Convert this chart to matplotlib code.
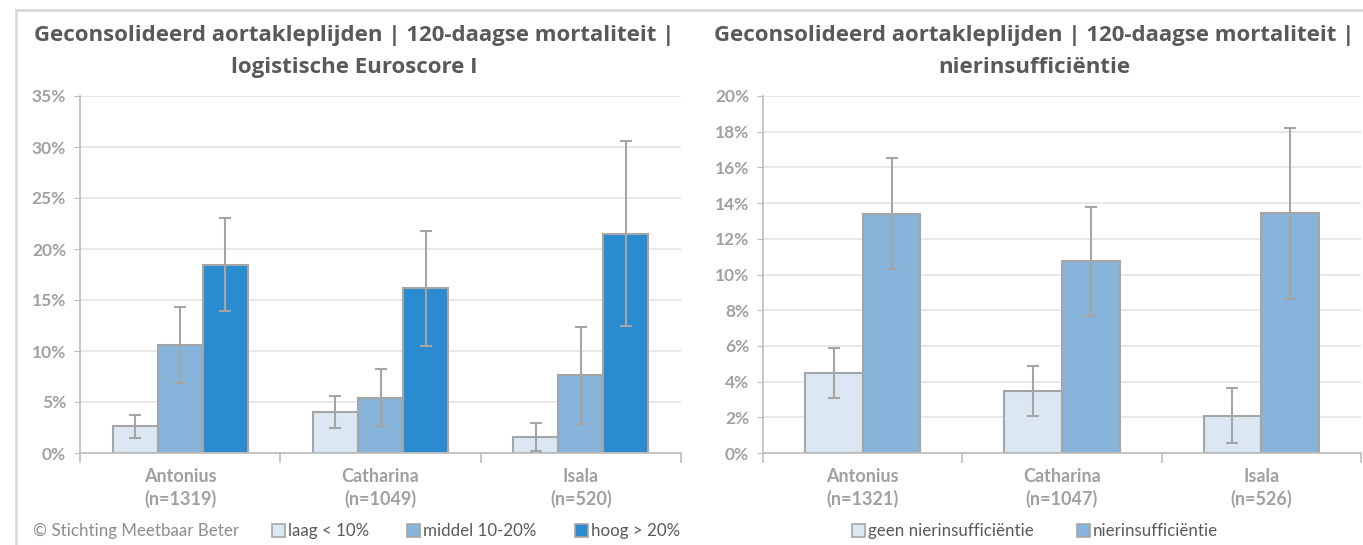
import matplotlib
matplotlib.use("Agg")
import matplotlib.pyplot as plt
from matplotlib.patches import Rectangle
from matplotlib.lines import Line2D
from matplotlib.ticker import FixedLocator, PercentFormatter
import numpy as np

# --- data -------------------------------------------------------------
hospitals_left = ["Antonius\n(n=1319)", "Catharina\n(n=1049)", "Isala\n(n=520)"]
euro_labels = ["laag < 10%", "middel 10-20%", "hoog > 20%"]
euro_values = [
    [2.6, 4.0, 1.6],     # laag
    [10.6, 5.4, 7.6],    # middel
    [18.4, 16.2, 21.5],  # hoog
]
euro_upper = [
    [3.7, 5.6, 2.9],
    [14.3, 8.2, 12.4],
    [23.0, 21.8, 30.6],
]
euro_lower = [
    [1.5, 2.5, 0.2],
    [6.9, 2.6, 2.8],
    [13.9, 10.5, 12.5],
]

hospitals_right = ["Antonius\n(n=1321)", "Catharina\n(n=1047)", "Isala\n(n=526)"]
renal_labels = ["geen nierinsufficiëntie", "nierinsufficiëntie"]
renal_values = [
    [4.5, 3.5, 2.1],
    [13.4, 10.75, 13.45],
]
renal_upper = [
    [5.9, 4.9, 3.65],
    [16.5, 13.8, 18.2],
]
renal_lower = [
    [3.1, 2.1, 0.55],
    [10.3, 7.7, 8.6],
]

title_left = ["Geconsolideerd aortakleplijden | 120-daagse mortaliteit |",
              "logistische Euroscore I"]
title_right = ["Geconsolideerd aortakleplijden | 120-daagse mortaliteit |",
               "nierinsufficiëntie"]
copyright_text = "© Stichting Meetbaar Beter"

# --- style ------------------------------------------------------------
W, H = 1363, 545
DPI = 100
c_light = "#dbe7f2"
c_mid = "#87b4da"
c_dark = "#2b8bd0"
edge = "#a5a5a5"
grid_c = "#e4e4e4"
tick_c = "#a0a0a0"
title_c = "#595959"
legend_c = "#595959"

plt.rcParams["font.family"] = ["Lato", "DejaVu Sans"]

fig = plt.figure(figsize=(W / DPI, H / DPI), dpi=DPI)


def px_axes(x0, x1, ytop, ybot):
    return fig.add_axes([x0 / W, 1 - ybot / H, (x1 - x0) / W, (ybot - ytop) / H])


def px_text(x, y, s, **kw):
    fig.text(x / W, 1 - y / H, s, **kw)


def px_square(x, y, color):
    fig.patches.append(Rectangle((x / W, 1 - (y + 13) / H), 13 / W, 13 / H,
                                 transform=fig.transFigure, facecolor=color,
                                 edgecolor=edge, linewidth=1.2))


# outer frame lines of the chart panel
fig.add_artist(Line2D([16 / W, 1], [1 - 10 / H, 1 - 10 / H], transform=fig.transFigure,
                      color="#d9d9d9", linewidth=2))
fig.add_artist(Line2D([16 / W, 16 / W], [0, 1 - 10 / H], transform=fig.transFigure,
                      color="#d9d9d9", linewidth=2))


def style_axes(ax, ymax, ystep, ncat, labels):
    ax.set_xlim(-0.5, ncat - 0.5)
    ax.set_ylim(0, ymax)
    ax.yaxis.set_major_locator(FixedLocator(np.arange(0, ymax + 0.01, ystep)))
    ax.yaxis.set_major_formatter(PercentFormatter(decimals=0))
    ax.grid(axis="y", color=grid_c, linewidth=1.2)
    ax.set_axisbelow(True)
    for s in ("top", "right"):
        ax.spines[s].set_visible(False)
    ax.spines["left"].set_color("#bdbdbd")
    ax.spines["bottom"].set_color("#bdbdbd")
    ax.spines["left"].set_linewidth(1.2)
    ax.spines["bottom"].set_linewidth(1.2)
    ax.tick_params(axis="y", length=4, color="#bdbdbd", labelcolor=tick_c,
                   labelsize=12.5, pad=6)
    for t in ax.get_yticklabels():
        t.set_fontweight("bold")
    ax.set_xticks(range(ncat))
    ax.set_xticklabels(labels, fontsize=13, color=tick_c, fontweight="bold",
                       linespacing=1.3)
    ax.tick_params(axis="x", length=0, pad=11)
    ax.set_xticks(np.arange(-0.5, ncat), minor=True)
    ax.tick_params(axis="x", which="minor", length=7, color="#bdbdbd", width=1.2)


def draw_groups(ax, values, upper, lower, colors, width):
    n = len(values)
    x = np.arange(len(values[0]))
    for i in range(n):
        off = (i - (n - 1) / 2) * width
        v = np.array(values[i])
        err = [v - np.array(lower[i]), np.array(upper[i]) - v]
        ax.bar(x + off, v, width, color=colors[i], edgecolor=edge, linewidth=1.5,
               zorder=2)
        ax.errorbar(x + off, v, yerr=err, fmt="none", ecolor=edge, elinewidth=1.5,
                    capsize=4.5, capthick=1.5, zorder=3)


title_kw = dict(ha="center", va="center", fontsize=16, fontweight="bold",
                color=title_c, family=["Open Sans", "DejaVu Sans"])


def draw_title(xc, lines):
    for y, line in zip([36, 67], lines):
        px_text(xc, y, line, **title_kw)


# --- left panel -------------------------------------------------------
axL = px_axes(80, 681, 96, 453)
style_axes(axL, 35, 5, 3, hospitals_left)
draw_groups(axL, euro_values, euro_upper, euro_lower, [c_light, c_mid, c_dark], 0.225)
draw_title(354, title_left)

px_text(33, 531, copyright_text, ha="left", va="center", fontsize=12.2, color="#8c8c8c")
for xs, lab, col in zip([272, 407, 575], euro_labels, [c_light, c_mid, c_dark]):
    px_square(xs, 524, col)
    px_text(xs + 16, 531, lab, ha="left", va="center", fontsize=12.2, color=legend_c)

# --- right panel ------------------------------------------------------
axR = px_axes(763, 1361, 96, 453)
style_axes(axR, 20, 2, 3, hospitals_right)
draw_groups(axR, renal_values, renal_upper, renal_lower, [c_light, c_mid], 0.29)
draw_title(1034, title_right)

for xs, lab, col in zip([852, 1077], renal_labels, [c_light, c_mid]):
    px_square(xs, 524, col)
    px_text(xs + 16, 531, lab, ha="left", va="center", fontsize=12.2, color=legend_c)

fig.savefig("out.png", dpi=DPI)
